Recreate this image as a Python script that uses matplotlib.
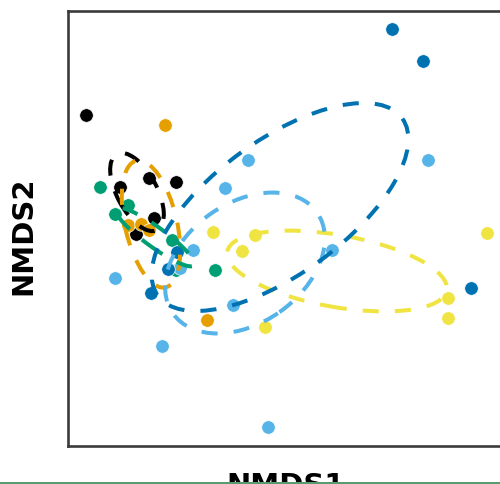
import matplotlib.pyplot as plt
from matplotlib.patches import Ellipse, Rectangle
import numpy as np

# NMDS site scores per group
groups = ['G1', 'G2', 'G3', 'G4', 'G5', 'G6']
colors = ['#000000', '#E69F00', '#009E73', '#F0E442', '#56B4E9', '#0072B2']

nmds1 = {
    'G1': [-0.82, -0.65, -0.505, -0.37, -0.48, -0.57],
    'G2': [-0.425, -0.215, -0.61, -0.545, -0.505],
    'G3': [-0.75, -0.61, -0.675, -0.39, -0.175, -0.37],
    'G4': [-0.185, 0.025, -0.04, 1.185, 0.99, 0.99, 0.075],
    'G5': [-0.01, 0.89, -0.125, -0.675, -0.285, 0.41, -0.085, -0.44, 0.09, -0.35],
    'G6': [0.71, 0.865, 1.105, -0.495, -0.365, -0.41],
}
nmds2 = {
    'G1': [0.575, 0.215, 0.26, 0.24, 0.06, -0.02],
    'G2': [0.525, -0.45, 0.025, 0.03, 0.0],
    'G3': [0.215, 0.125, 0.08, -0.05, -0.2, -0.2],
    'G4': [-0.01, -0.025, -0.105, -0.015, -0.34, -0.44, -0.485],
    'G5': [0.35, 0.35, 0.21, -0.24, -0.1, -0.1, -0.375, -0.58, -0.985, -0.19],
    'G6': [1.005, 0.845, -0.29, -0.315, -0.11, -0.195],
}

# confidence ellipses: centre, full width, full height, angle (deg)
ell_x = [-0.565, -0.495, -0.475, 0.435, -0.025, 0.15]
ell_y = [0.19, 0.03, -0.035, -0.205, -0.165, 0.115]
ell_w = [0.43, 0.65, 0.48, 1.115, 0.88, 1.51]
ell_h = [0.20, 0.26, 0.10, 0.36, 0.60, 0.67]
ell_ang = [-62, -77, -36, -10, 35, 36]

fig = plt.figure(figsize=(5, 4.84), dpi=100)
ax = fig.add_axes([0.135, 0.0795, 0.985, 0.8988])

for g, c in zip(groups, colors):
    ax.scatter(nmds1[g], nmds2[g], s=95, color=c, edgecolor='white',
               linewidth=0.5, zorder=2)

for i, c in enumerate(colors):
    e = Ellipse((ell_x[i], ell_y[i]), ell_w[i], ell_h[i], angle=ell_ang[i],
                fill=False, edgecolor=c, linewidth=2.9,
                linestyle=(0, (4, 4)), zorder=3)
    ax.add_patch(e)

ax.set_xlim(-0.9125, 1.55)
ax.set_ylim(-1.0775, 1.0975)
ax.set_xticks([])
ax.set_yticks([])
for sp in ax.spines.values():
    sp.set_color('#3b3b3b')
    sp.set_linewidth(1.9)

fig.text(0.046, 0.512, 'NMDS2', rotation=90, ha='center', va='center',
         fontsize=21, fontweight='bold', family='DejaVu Sans')
fig.text(0.572, -0.021, 'NMDS1', ha='center', va='baseline',
         fontsize=21, fontweight='bold', family='DejaVu Sans')

# strip along the lower edge
fig.patches.append(Rectangle((0, 0), 1, 2.3 / 484, transform=fig.transFigure,
                             facecolor='#5a9a6e', edgecolor='none', zorder=5))

fig.savefig('out.png', dpi=100)
